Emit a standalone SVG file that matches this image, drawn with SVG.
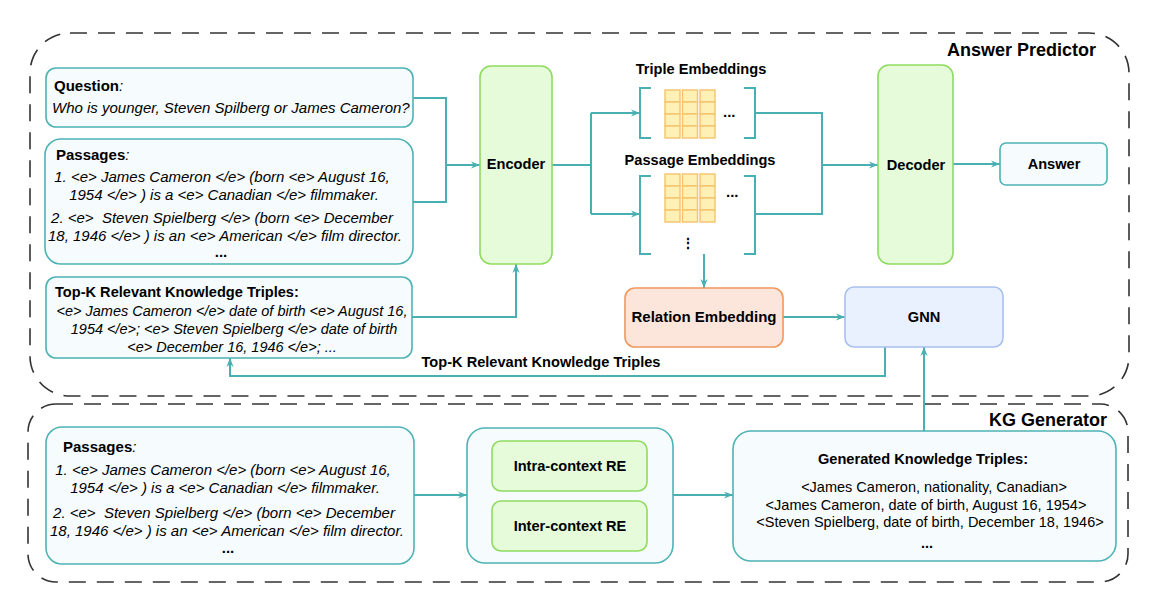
<svg xmlns="http://www.w3.org/2000/svg" width="1173" height="599" viewBox="0 0 1173 599">
<style>
text{font-family:"Liberation Sans",Arial,Helvetica,sans-serif;fill:#000}
.b{font-weight:bold}
.i{font-style:italic}
.lbl{font-weight:bold;font-size:14.6px}
.t15{font-size:15px}
.t145{font-size:14.5px}
.mid{text-anchor:middle}
.pre{white-space:pre}
.grp{fill:none;stroke:#333;stroke-width:1.6;stroke-dasharray:17 11}
.tbox{fill:#f6fbfd;stroke:#4eb3b4;stroke-width:1.6}
.gbox{fill:#e5fbda;stroke:#8edb5f;stroke-width:1.6}
.obox{fill:#fce6dc;stroke:#f0975c;stroke-width:1.6}
.bbox{fill:#e8f1fd;stroke:#a8c0f0;stroke-width:1.6}
.c{fill:none;stroke:#4aafb0;stroke-width:2}
.ca{fill:none;stroke:#4aafb0;stroke-width:2;marker-end:url(#arr)}
.cell{fill:#fff1b5;stroke:#f3c46c;stroke-width:1.4}
</style>
<defs>
<marker id="arr" viewBox="0 0 10 10" refX="10" refY="5" markerWidth="4.5" markerHeight="4.5" orient="auto">
<path d="M0,1 L10,5 L0,9 L3,5 z" fill="#4aafb0"/>
</marker>
<g id="grid">
<rect class="cell" x="665" y="0" width="15" height="12"/><rect class="cell" x="665" y="12" width="15" height="12"/><rect class="cell" x="665" y="24" width="15" height="12"/><rect class="cell" x="665" y="36" width="15" height="12"/>
<rect class="cell" x="682.5" y="0" width="15" height="12"/><rect class="cell" x="682.5" y="12" width="15" height="12"/><rect class="cell" x="682.5" y="24" width="15" height="12"/><rect class="cell" x="682.5" y="36" width="15" height="12"/>
<rect class="cell" x="700" y="0" width="15" height="12"/><rect class="cell" x="700" y="12" width="15" height="12"/><rect class="cell" x="700" y="24" width="15" height="12"/><rect class="cell" x="700" y="36" width="15" height="12"/>
</g>
</defs>
<rect width="1173" height="599" fill="#fff"/>

<g id="answer-predictor">
<rect class="grp" x="30" y="33" width="1099" height="363" rx="40"/>
<text class="b" x="1096" y="56" font-size="18" text-anchor="end">Answer Predictor</text>
</g>
<g id="kg-generator">
<rect class="grp" x="28" y="404" width="1100" height="178" rx="28"/>
<text class="b" x="1107" y="426" font-size="18" text-anchor="end">KG Generator</text>
</g>

<g id="connectors">
<path class="c" d="M413,98 H446 V202 H413"/>
<path class="ca" d="M446,165 H480"/>
<path class="ca" d="M412,317 H516 V264"/>
<path class="c" d="M552,165 H591 M591,113 V214"/>
<path class="ca" d="M591,113 H640"/>
<path class="ca" d="M591,214 H640"/>
<path class="c" d="M755,113 H822 V214 H755"/>
<path class="ca" d="M822,165 H878"/>
<path class="ca" d="M953,164 H1000"/>
<path class="ca" d="M704,254 V288"/>
<path class="ca" d="M783,317 H845"/>
<path class="ca" d="M885,347 V376 H230 V358"/>
<text class="lbl mid" x="541" y="367">Top-K Relevant Knowledge Triples</text>
<path class="ca" d="M924,431 V347"/>
<path class="ca" d="M414,495 H467"/>
<path class="ca" d="M673,495 H733"/>
</g>

<g id="question">
<rect class="tbox" x="46" y="68" width="367" height="59" rx="10"/>
<text class="t15" x="54" y="91"><tspan class="b">Question</tspan><tspan class="i">:</tspan></text>
<text class="t15 i" x="52" y="113">Who is younger, Steven Spilberg or James Cameron?</text>
</g>

<g id="passages-top">
<rect class="tbox" x="45" y="139" width="368" height="125" rx="16"/>
<text class="t15" x="56" y="160"><tspan class="b">Passages</tspan><tspan class="i">:</tspan></text>
<text class="t15 i mid" x="222" y="182">1. &lt;e&gt; James Cameron &lt;/e&gt; (born &lt;e&gt; August 16,</text>
<text class="t15 i mid" x="224" y="200">1954 &lt;/e&gt; ) is a &lt;e&gt; Canadian &lt;/e&gt; filmmaker.</text>
<text class="t15 i mid pre" x="222" y="223">2. &lt;e&gt;  Steven Spielberg &lt;/e&gt; (born &lt;e&gt; December</text>
<text class="t15 i mid" x="225" y="241">18, 1946 &lt;/e&gt; ) is an &lt;e&gt; American &lt;/e&gt; film director.</text>
<text class="t15 b mid" x="221" y="257">...</text>
</g>

<g id="topk">
<rect class="tbox" x="46" y="277" width="366" height="81" rx="10"/>
<text class="lbl" x="55" y="297">Top-K Relevant Knowledge Triples:</text>
<text class="t145 i mid" x="232" y="316">&lt;e&gt; James Cameron &lt;/e&gt; date of birth &lt;e&gt; August 16,</text>
<text class="t145 i mid" x="234" y="334">1954 &lt;/e&gt;; &lt;e&gt; Steven Spielberg &lt;/e&gt; date of birth</text>
<text class="t145 i mid" x="232" y="352">&lt;e&gt; December 16, 1946 &lt;/e&gt;; ...</text>
</g>

<g id="encoder">
<rect class="gbox" x="480" y="66" width="72" height="198" rx="11"/>
<text class="lbl mid" x="516" y="169">Encoder</text>
</g>

<g id="triple-embeddings">
<text class="lbl mid" x="701" y="74">Triple Embeddings</text>
<path class="c" d="M651,88 H640 V138 H651 M744,88 H755 V138 H744"/>
<use href="#grid" y="90"/>
<text class="t15 b" x="723" y="117">...</text>
</g>

<g id="passage-embeddings">
<text class="lbl mid" x="700" y="165">Passage Embeddings</text>
<path class="c" d="M651,176 H640 V254 H651 M744,176 H755 V254 H744"/>
<use href="#grid" y="174"/>
<text class="t15 b" x="726" y="197">...</text>
<text class="b mid" x="688" y="248" font-size="14">⋮</text>
</g>

<g id="decoder">
<rect class="gbox" x="878" y="65" width="75" height="199" rx="11"/>
<text class="lbl mid" x="916" y="170">Decoder</text>
</g>

<g id="answer">
<rect class="tbox" x="1000" y="143" width="107" height="42" rx="6"/>
<text class="lbl mid" x="1054" y="169">Answer</text>
</g>

<g id="relation-embedding">
<rect class="obox" x="625" y="288" width="158" height="59" rx="10"/>
<text class="b mid" x="704" y="322" font-size="15">Relation Embedding</text>
</g>

<g id="gnn">
<rect class="bbox" x="845" y="287" width="158" height="60" rx="9"/>
<text class="lbl mid" x="924" y="322">GNN</text>
</g>

<g id="passages-bottom">
<rect class="tbox" x="46" y="427" width="368" height="137" rx="16"/>
<text class="t15" x="63" y="452"><tspan class="b">Passages</tspan><tspan class="i">:</tspan></text>
<text class="t15 i mid" x="223" y="475">1. &lt;e&gt; James Cameron &lt;/e&gt; (born &lt;e&gt; August 16,</text>
<text class="t15 i mid" x="225" y="493">1954 &lt;/e&gt; ) is a &lt;e&gt; Canadian &lt;/e&gt; filmmaker.</text>
<text class="t15 i mid pre" x="224" y="518">2. &lt;e&gt;  Steven Spielberg &lt;/e&gt; (born &lt;e&gt; December</text>
<text class="t15 i mid" x="227" y="536">18, 1946 &lt;/e&gt; ) is an &lt;e&gt; American &lt;/e&gt; film director.</text>
<text class="t15 b mid" x="228" y="553">...</text>
</g>

<g id="re-module">
<rect class="tbox" x="467" y="428" width="206" height="135" rx="18"/>
<g id="intra-context-re">
<rect class="gbox" x="492" y="441" width="155" height="50" rx="9"/>
<text class="lbl mid" x="570" y="471">Intra-context RE</text>
</g>
<g id="inter-context-re">
<rect class="gbox" x="492" y="501" width="155" height="50" rx="9"/>
<text class="lbl mid" x="570" y="531">Inter-context RE</text>
</g>
</g>

<g id="generated-triples">
<rect class="tbox" x="733" y="431" width="383" height="130" rx="18"/>
<text class="lbl mid" x="923" y="464">Generated Knowledge Triples:</text>
<text class="t145 mid" x="934" y="492">&lt;James Cameron, nationality, Canadian&gt;</text>
<text class="t145 mid" x="926" y="510">&lt;James Cameron, date of birth, August 16, 1954&gt;</text>
<text class="t145 mid" x="930" y="527">&lt;Steven Spielberg, date of birth, December 18, 1946&gt;</text>
<text class="t145 b mid" x="927" y="548">...</text>
</g>
</svg>
